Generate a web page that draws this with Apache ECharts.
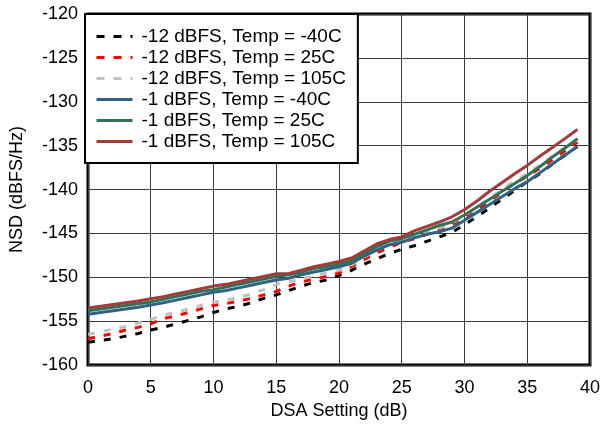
<!DOCTYPE html>
<html><head><meta charset="utf-8">
<script src="https://cdn.jsdelivr.net/npm/echarts@6/dist/echarts.min.js"></script>
<style>html,body{margin:0;padding:0;background:#fff;}#c{width:603px;height:425px;}</style>
</head><body><div id="c"></div>
<script>
const dsa = [0,1,2,3,4,5,6,7,8,9,10,11,12,13,14,15,16,17,18,19,20,21,22,23,24,25,26,27,28,29,30,31,32,33,34,35,36,37,38,39];
const m12_m40 = [-157.4,-157.2,-157.0,-156.7,-156.4,-156.0,-155.7,-155.3,-154.9,-154.5,-154.0,-153.6,-153.3,-152.9,-152.4,-152.0,-151.5,-151.0,-150.6,-150.3,-149.8,-149.2,-148.5,-147.9,-147.3,-146.8,-146.4,-145.9,-145.4,-144.9,-144.0,-143.1,-142.1,-141.1,-140.1,-139.1,-138.2,-137.1,-136.1,-135.1];
const m12_25 = [-157.0,-156.7,-156.4,-156.0,-155.7,-155.3,-154.7,-154.4,-154.0,-153.6,-153.2,-153.0,-152.7,-152.4,-152.0,-151.6,-151.0,-150.5,-150.2,-149.9,-149.5,-148.8,-148.0,-147.2,-146.6,-146.0,-145.6,-145.1,-144.6,-144.0,-143.2,-142.3,-141.3,-140.3,-139.3,-138.5,-137.6,-136.6,-135.6,-134.6];
const m12_105 = [-156.5,-156.2,-155.9,-155.6,-155.2,-154.8,-154.3,-154.0,-153.6,-153.2,-152.8,-152.6,-152.3,-151.9,-151.4,-150.8,-150.5,-150.2,-149.8,-149.5,-149.2,-148.6,-147.7,-146.9,-146.3,-145.8,-145.4,-144.9,-144.4,-143.8,-143.0,-142.0,-141.0,-140.0,-139.0,-138.2,-137.2,-136.2,-135.2,-134.3];
const m1_m40 = [-154.2,-154.0,-153.8,-153.6,-153.4,-153.15,-152.9,-152.6,-152.3,-152.0,-151.7,-151.5,-151.2,-150.9,-150.6,-150.3,-150.1,-149.7,-149.4,-149.1,-148.8,-148.4,-147.6,-146.9,-146.3,-146.0,-145.5,-145.1,-144.8,-144.4,-143.5,-142.6,-141.7,-140.8,-139.9,-139.1,-138.1,-137.1,-136.1,-135.1];
const m1_25 = [-153.8,-153.6,-153.4,-153.2,-153.0,-152.8,-152.5,-152.2,-151.9,-151.6,-151.4,-151.1,-150.8,-150.5,-150.2,-149.9,-149.7,-149.4,-149.0,-148.8,-148.5,-148.1,-147.3,-146.5,-145.9,-145.6,-145.1,-144.6,-144.1,-143.7,-142.9,-142.0,-141.1,-140.2,-139.3,-138.4,-137.4,-136.3,-135.3,-134.2];
const m1_105 = [-153.5,-153.3,-153.1,-152.9,-152.7,-152.45,-152.2,-151.9,-151.6,-151.3,-151.0,-150.8,-150.5,-150.2,-149.9,-149.6,-149.55,-149.2,-148.8,-148.5,-148.2,-147.8,-147.0,-146.2,-145.7,-145.4,-144.7,-144.2,-143.7,-143.1,-142.3,-141.3,-140.2,-139.2,-138.2,-137.25,-136.2,-135.2,-134.2,-133.15];
const names = ['-12 dBFS, Temp = -40C','-12 dBFS, Temp = 25C','-12 dBFS, Temp = 105C','-1 dBFS, Temp = -40C','-1 dBFS, Temp = 25C','-1 dBFS, Temp = 105C'];
const xTicks = [0,5,10,15,20,25,30,35,40];
const yTicks = [-160,-155,-150,-145,-140,-135,-130,-125,-120];

const FONT = 'Liberation Sans, Arial, sans-serif';
const dataSets = [m12_m40, m12_25, m12_105, m1_m40, m1_25, m1_105];
const colors = ['#000000','#ff0000','#c0c0c0','#2f6283','#2e7454','#a33b3b'];
const dashed = [true,true,true,false,false,false];
const order = [3,4,5,0,1,2];
const series = order.map(i => ({
  name: names[i], type: 'line', symbol: 'none', z: dashed[i] ? 2 : 3,
  data: dsa.map((x,k) => [x, dataSets[i][k]]),
  lineStyle: { color: colors[i], width: 3, type: dashed[i] ? [7,9] : 'solid', cap: 'butt' },
  itemStyle: { color: colors[i] }
}));
const legendData = names.map((n,i) => ({
  name: n,
  lineStyle: { color: colors[i], width: 3, type: dashed[i] ? [8,9] : 'solid', cap: 'butt' }
}));
const chart = echarts.init(document.getElementById('c'), null, {renderer:'canvas'});
chart.setOption({
  animation: false,
  backgroundColor: '#fff',
  grid: { left: 85, right: 11, top: 14, bottom: 53, show: true, borderColor: '#000', borderWidth: 3, backgroundColor: 'transparent' },
  xAxis: { type: 'value', min: xTicks[0], max: xTicks[xTicks.length-1], interval: 5,
    name: 'DSA Setting (dB)', nameLocation: 'middle', nameGap: 29,
    nameTextStyle: { fontFamily: FONT, fontSize: 18, color: '#000' },
    axisLine: { show: false }, axisTick: { show: false },
    axisLabel: { fontFamily: FONT, fontSize: 18, color: '#000', margin: 14 },
    splitLine: { show: true, lineStyle: { color: '#3a3a3a', width: 1 } } },
  yAxis: { type: 'value', min: yTicks[0], max: yTicks[yTicks.length-1], interval: 5,
    name: 'NSD (dBFS/Hz)', nameLocation: 'middle', nameGap: 62, nameRotate: 90,
    nameTextStyle: { fontFamily: FONT, fontSize: 18, color: '#000' },
    axisLine: { show: false }, axisTick: { show: false },
    axisLabel: { fontFamily: FONT, fontSize: 18, color: '#000', margin: 10 },
    splitLine: { show: true, lineStyle: { color: '#3a3a3a', width: 1 } } },
  legend: {
    data: legendData, orient: 'vertical', left: 85, top: 14,
    backgroundColor: '#fff', borderColor: '#000', borderWidth: 2, borderRadius: 0,
    padding: [13, 12, 12, 10], itemGap: 2, itemWidth: 36, itemHeight: 14,
    itemStyle: { opacity: 0 },
    textStyle: { fontFamily: FONT, fontSize: 19, color: '#000', padding: [0,0,0,4] },
    z: 10
  },
  series: series
});
</script></body></html>
